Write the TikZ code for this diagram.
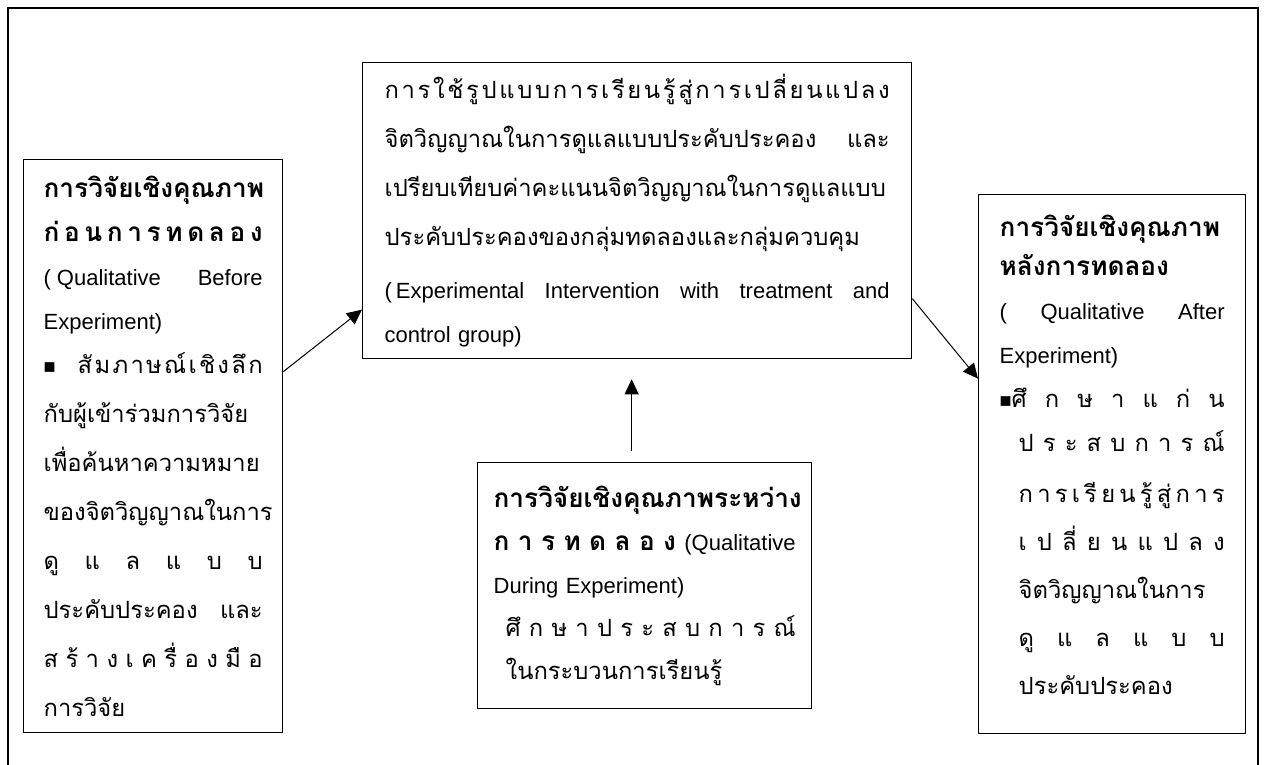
\documentclass[tikz,border=0pt]{standalone}
\usepackage{fontspec}
\setmainfont{Liberation Sans}
\newfontfamily\thaifont[Script=Thai, Scale=1.08, BoldFeatures={Scale=1.19}]{Loma}
\usetikzlibrary{arrows.meta, positioning}
\setlength{\parindent}{0pt}
\newcommand{\spreadline}[2][0pt]{\hspace*{#1}\hbox to \dimexpr\hsize-#1\relax{\spaceskip=0pt plus 1fil\xspaceskip=0pt plus 1fil\relax #2}}
\newcommand{\sqmark}{{\fontsize{20}{20}\selectfont ■}}

\begin{document}
\begin{tikzpicture}[x=1pt, y=-1pt,
  box/.style={draw, line width=1.3pt, anchor=north west, align=left,
    inner ysep=0pt, font=\fontsize{22}{44}\selectfont},
  flow/.style={line width=1pt, -{Triangle[length=15pt, width=14pt]}}]
\useasboundingbox (0,0) rectangle (1266,765);
\draw [line width=1.3pt] (8,775) -- (8,8) -- (1258,8) -- (1258,775);

\node[box, text width=219pt, inner xsep=20pt, minimum height=573pt] (before) at (23,159)%
{{\thaifont\bfseries การวิจัยเชิงคุณภาพ}\\
\spreadline{\thaifont\bfseries ก่ อ น ก า ร ท ด ล อ ง}\\
\spreadline{(\hspace{6pt}Qualitative Before}\\
Experiment)\\
\spreadline{\sqmark\hspace{22pt}\thaifont สั ม ภ า ษ ณ์ เ ชิ ง ลึ ก}\\[5pt]
{\thaifont กับผู้เข้าร่วมการวิจัย}\\[5pt]
{\thaifont เพื่อค้นหาความหมาย}\\[5pt]
{\thaifont ของจิตวิญญาณในการ}\\[5pt]
\spreadline{\thaifont ดู แ ล แ บ บ}\\[5pt]
\spreadline{\thaifont ประคับประคอง และ}\\[5pt]
\spreadline{\thaifont ส ร้ า ง เ ค รื่ อ ง มื อ}\\[5pt]
{\thaifont การวิจัย}};

\node[box, text width=505pt, inner xsep=22pt, minimum height=296pt] (intervention) at (362,62)%
{\spreadline{\thaifont ก า ร ใ ช้ รู ป แ บ บ ก า ร เ รี ย น รู้ สู่ ก า ร เ ป ลี่ ย น แ ป ล ง}\\[5pt]
\spreadline{\thaifont จิตวิญญาณในการดูแลแบบประคับประคอง และ}\\[5pt]
{\thaifont เปรียบเทียบค่าคะแนนจิตวิญญาณในการดูแลแบบ}\\[5pt]
{\thaifont ประคับประคองของกลุ่มทดลองและกลุ่มควบคุม}\\[9pt]
\spreadline{(\hspace{4pt}Experimental Intervention with treatment and}\\
control group)};

\node[box, text width=302pt, inner xsep=16pt, minimum height=246pt] (during) at (477,462)%
{{\thaifont\bfseries การวิจัยเชิงคุณภาพระหว่าง}\\[-1pt]
\spreadline{{\thaifont\bfseries ก า ร ท ด ล อ ง} (Qualitative}\\[-1pt]
During Experiment)\\[-1pt]
\spreadline[12pt]{\thaifont ศึ ก ษ า ป ร ะ ส บ ก า ร ณ์}\\[-1pt]
\hspace*{12pt}{\thaifont ในกระบวนการเรียนรู้}};

\node[box, text width=225pt, inner xsep=21pt, minimum height=539pt] (after) at (978,194)%
{{\thaifont\bfseries การวิจัยเชิงคุณภาพ}\\[-5pt]
{\thaifont\bfseries หลังการทดลอง}\\
\spreadline{( Qualitative After}\\
Experiment)\\
\spreadline{\sqmark\thaifont ศึ ก ษ า แ ก่ น}\\
\spreadline[19pt]{\thaifont ป ร ะ ส บ ก า ร ณ์}\\[7pt]
\spreadline[19pt]{\thaifont ก า ร เ รี ย น รู้ สู่ ก า ร}\\[4pt]
\spreadline[19pt]{\thaifont เ ป ลี่ ย น แ ป ล ง}\\[4pt]
\hspace*{19pt}{\thaifont จิตวิญญาณในการ}\\[4pt]
\spreadline[19pt]{\thaifont ดู แ ล แ บ บ}\\[4pt]
\hspace*{19pt}{\thaifont ประคับประคอง}\rule[-18pt]{0pt}{1pt}};

\draw [flow] ([yshift=74.5pt]before.east) -- ([yshift=-99pt]intervention.west);
\draw [flow] ([xshift=-13pt, yshift=11pt]during.north) -- ([xshift=-5.5pt, yshift=-20pt]intervention.south);
\draw [flow] ([yshift=-88pt]intervention.east) -- ([yshift=85.5pt]after.west);
\end{tikzpicture}
\end{document}
